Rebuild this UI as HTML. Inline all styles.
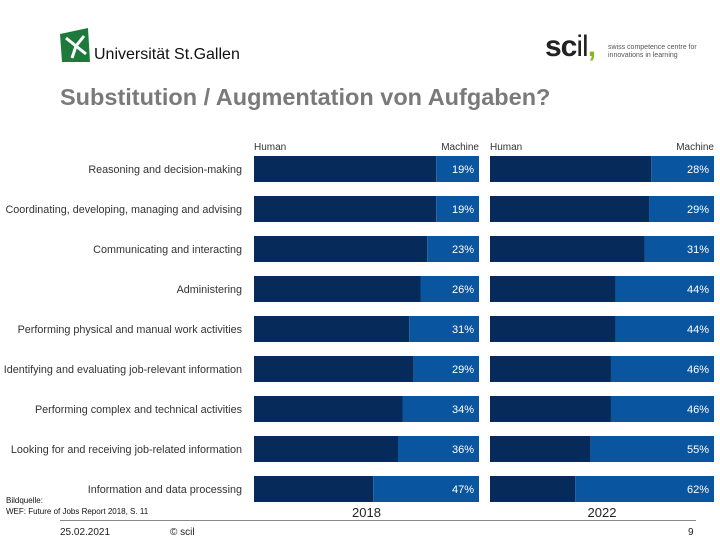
<!DOCTYPE html>
<html><head><meta charset="utf-8"><style>
body{margin:0;width:720px;height:540px;background:#fff;font-family:"Liberation Sans",sans-serif;overflow:hidden;position:relative}
.a{position:absolute;white-space:nowrap}
</style></head><body>
<div class="a" style="left:58px;top:28px;width:200px;height:40px">
<svg width="34" height="36" style="position:absolute;left:0;top:0"><polygon points="2,6 30,0 32,34 4,34" fill="#1e7a3c"/><path d="M8,10 L18,18 L26,8 M18,18 L14,30 M18,18 L28,26" stroke="#fff" stroke-width="3" fill="none"/></svg>
<span class="a" style="left:36px;top:18px;font-size:16px;color:#111">Universität St.Gallen</span></div>
<div class="a" style="left:545px;top:30px">
<span class="a" style="left:0;top:0;font-size:30px;font-weight:bold;color:#222;letter-spacing:-1px">sc<span style="font-weight:normal">il</span><span style="color:#8ab520">,</span></span>
<span class="a" style="left:63px;top:14px;font-size:7px;color:#555;line-height:8px">swiss competence centre for<br>innovations in learning</span></div>
<div class="a" style="left:60px;top:84px;font-size:23.5px;font-weight:bold;color:#7a7a7a">Substitution / Augmentation von Aufgaben?</div>
<svg class="a" style="left:0;top:0" width="720" height="540" id="c"></svg>
<div class="a" style="left:6px;top:495px;font-size:8px;line-height:11px;color:#111">Bildquelle:<br>WEF: Future of Jobs Report 2018, S. 11</div>
<div class="a" style="left:60px;top:520px;width:636px;height:1px;background:#888"></div>
<div class="a" style="left:60px;top:527px;font-size:10px;color:#222">25.02.2021</div>
<div class="a" style="left:170px;top:527px;font-size:10px;color:#222">© scil</div>
<div class="a" style="left:688px;top:527px;font-size:10px;color:#222">9</div>
<script>
const categories=["Reasoning and decision-making","Coordinating, developing, managing and advising","Communicating and interacting","Administering","Performing physical and manual work activities","Identifying and evaluating job-relevant information","Performing complex and technical activities","Looking for and receiving job-related information","Information and data processing"];
const machine2018=[19,19,23,26,31,29,34,36,47];
const machine2022=[28,29,31,44,44,46,46,55,62];
const years=["2018","2022"];
const svg=document.getElementById('c');
const NS='http://www.w3.org/2000/svg';
function rowY(i){return 156+i*40;}
const panels=[{x0:254,w:225,data:machine2018},{x0:490,w:224,data:machine2022}];
function xs(p,v){return p.x0+p.w*(1-v/100);}
function mk(t,a){const e=document.createElementNS(NS,t);for(const k in a)e.setAttribute(k,a[k]);svg.appendChild(e);return e;}
categories.forEach((c,i)=>{
 const t=mk('text',{x:242,y:rowY(i)+17,'text-anchor':'end','font-size':'10.8',fill:'#333','font-family':'Liberation Sans'});
 t.textContent=c;
 
 
});
panels.forEach((p,pi)=>{
 let h=mk('text',{x:p.x0,y:150,'font-size':'10',fill:'#333'});h.textContent='Human';
 
 
 let m=mk('text',{x:p.x0+p.w,y:150,'font-size':'10',fill:'#333','text-anchor':'end'});m.textContent='Machine';
 
 
 let yl=mk('text',{x:p.x0+p.w/2,y:517,'font-size':'13',fill:'#222','text-anchor':'middle'});yl.textContent=years[pi];
 
 
 p.data.forEach((v,i)=>{
  const y=rowY(i),xm=xs(p,v);
  const r1=mk('rect',{x:p.x0,y:y,width:xm-p.x0,height:26,fill:'#062b5a'});
  
  
  const r2=mk('rect',{x:xm,y:y,width:p.x0+p.w-xm,height:26,fill:'#0a55a0'});
  
  
  const t=mk('text',{x:p.x0+p.w-5,y:y+17,'font-size':'11',fill:'#fff','text-anchor':'end'});t.textContent=v+'%';
  
  
 });
});
</script>
</body></html>
